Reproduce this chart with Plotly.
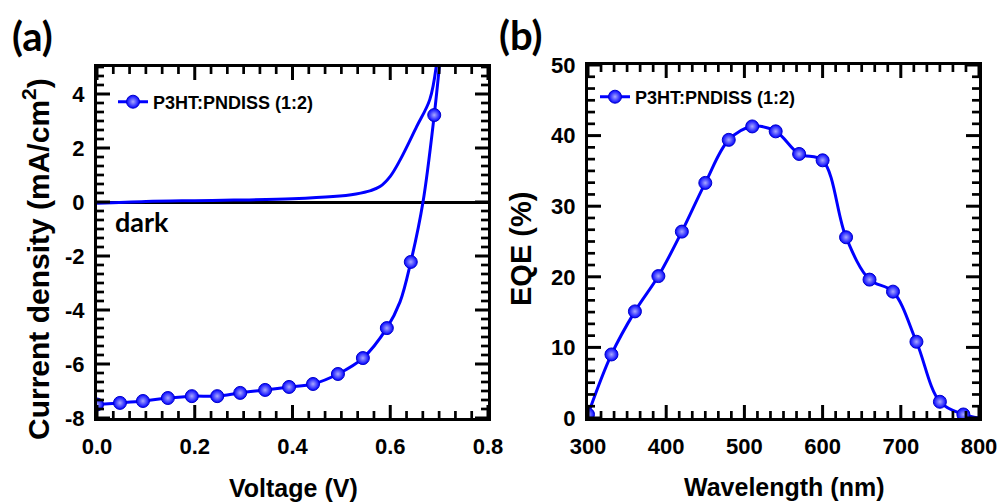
import plotly.graph_objects as go

# ---------------- data ----------------
# (a) J-V curves
light_v_markers = [0.0, 0.047, 0.094, 0.145, 0.194, 0.246, 0.293, 0.344, 0.393, 0.442, 0.493, 0.544, 0.593, 0.642, 0.690]
light_j_markers = [-7.50, -7.44, -7.37, -7.26, -7.19, -7.19, -7.07, -6.96, -6.85, -6.74, -6.37, -5.78, -4.67, -2.22, 3.22]
light_v_line = [0.0, 0.047, 0.094, 0.145, 0.194, 0.246, 0.293, 0.344, 0.393, 0.442, 0.493, 0.544, 0.593, 0.620, 0.642, 0.667, 0.690, 0.702]
light_j_line = [-7.50, -7.44, -7.37, -7.26, -7.19, -7.19, -7.07, -6.96, -6.85, -6.74, -6.37, -5.78, -4.67, -3.70, -2.22, 0.0, 3.22, 5.3]
dark_v = [0.0, 0.10, 0.20, 0.28, 0.40, 0.483, 0.53, 0.56, 0.579, 0.60, 0.62, 0.654, 0.681, 0.696]
dark_j = [-0.05, 0.02, 0.05, 0.07, 0.12, 0.20, 0.30, 0.42, 0.57, 0.95, 1.55, 2.79, 3.80, 5.3]

# (b) EQE spectrum
wl = [300, 330, 360, 390, 420, 450, 480, 510, 540, 570, 600, 630, 660, 690, 720, 750, 780]
eqe = [0.5, 9.0, 15.1, 20.1, 26.4, 33.3, 39.4, 41.3, 40.6, 37.4, 36.5, 25.6, 19.6, 17.9, 10.8, 2.3, 0.5]
wl_line = wl + [800]
eqe_line = eqe + [0.0]

legend_name = "P3HT:PNDISS (1:2)"
xa_range, ya_range = [0.0, 0.8], [-8.0, 5.0]
xb_range, yb_range = [300.0, 800.0], [0.0, 50.0]
xa_ticks = [0.0, 0.2, 0.4, 0.6, 0.8]
xa_ticklabels = ["0.0", "0.2", "0.4", "0.6", "0.8"]
ya_ticks = [-8, -6, -4, -2, 0, 2, 4]
ya_ticklabels = ["-8", "-6", "-4", "-2", "0", "2", "4"]
xb_ticks = [300, 400, 500, 600, 700, 800]
yb_ticks = [0, 10, 20, 30, 40, 50]

# ---------------- layout helpers (pixel -> paper) ----------------
W, H = 1000, 504
L, R, T, B = 97, 21, 65, 86
PW, PH = W - L - R, H - T - B


def px(x):
    return (x - L) / PW


def py(y):
    return (H - B - y) / PH


BLUE = "#0000ff"
FONT = "Arial"
marker_style = dict(size=13, color="#0000ff", line=dict(color="#0000cc", width=1),
                    gradient=dict(type="radial", color="#a8a8ff"))

# panel geometry in pixels (for tick lengths)
A_W, A_H = px(488) * PW, py(67) * PH
B_W, B_H = (1 - px(588)) * PW, PH


def tick_paths(xr, yr, x_step, y_step, w_px, h_px, major):
    """Inside tick segments on all four sides; 5 minor ticks between majors."""
    xs, ys = [], []
    ln = 13 if major else 7
    dy = ln / h_px * (yr[1] - yr[0])
    dx = ln / w_px * (xr[1] - xr[0])
    n = int(round((xr[1] - xr[0]) / (x_step / 6)))
    for k in range(n + 1):
        if (k % 6 == 0) != major:
            continue
        v = xr[0] + k * x_step / 6
        xs += [v, v, None, v, v, None]
        ys += [yr[0], yr[0] + dy, None, yr[1], yr[1] - dy, None]
    n = int(round((yr[1] - yr[0]) / (y_step / 6)))
    for k in range(n + 1):
        if (k % 6 == 0) != major:
            continue
        v = yr[0] + k * y_step / 6
        xs += [xr[0], xr[0] + dx, None, xr[1], xr[1] - dx, None]
        ys += [v, v, None, v, v, None]
    return xs, ys


fig = go.Figure()
# panel (a)
fig.add_trace(go.Scatter(x=dark_v, y=dark_j, mode="lines", line=dict(color=BLUE, width=3, shape="spline"),
                         showlegend=False, hoverinfo="skip", xaxis="x", yaxis="y"))
fig.add_trace(go.Scatter(x=light_v_line, y=light_j_line, mode="lines", line=dict(color=BLUE, width=3, shape="spline"),
                         showlegend=False, hoverinfo="skip", xaxis="x", yaxis="y"))
fig.add_trace(go.Scatter(x=light_v_markers, y=light_j_markers, mode="markers", marker=marker_style,
                         showlegend=False, xaxis="x", yaxis="y"))
fig.add_trace(go.Scatter(x=[None], y=[None], mode="lines+markers", name=legend_name,
                         line=dict(color=BLUE, width=3), marker=marker_style, legend="legend",
                         xaxis="x", yaxis="y"))
# panel (b)
fig.add_trace(go.Scatter(x=wl_line, y=eqe_line, mode="lines", line=dict(color=BLUE, width=3, shape="spline"),
                         showlegend=False, hoverinfo="skip", xaxis="x2", yaxis="y2"))
fig.add_trace(go.Scatter(x=wl, y=eqe, mode="markers", marker=marker_style,
                         showlegend=False, xaxis="x2", yaxis="y2"))
fig.add_trace(go.Scatter(x=[None], y=[None], mode="lines+markers", name=legend_name,
                         line=dict(color=BLUE, width=3), marker=marker_style, legend="legend2",
                         xaxis="x2", yaxis="y2"))

# tick marks (inside, all four sides)
for (xr, yr, xs_, ys_, wpx, hpx, xa, ya) in [
    (xa_range, ya_range, 0.2, 2.0, A_W, A_H, "x", "y"),
    (xb_range, yb_range, 100.0, 10.0, B_W, B_H, "x2", "y2"),
]:
    for major in (True, False):
        tx, ty = tick_paths(xr, yr, xs_, ys_, wpx, hpx, major)
        fig.add_trace(go.Scatter(x=tx, y=ty, mode="lines", connectgaps=False,
                                 line=dict(color="black", width=3 if major else 2.7),
                                 showlegend=False, hoverinfo="skip", xaxis=xa, yaxis=ya))

tickfont = dict(family=FONT, size=22, color="black", weight="bold")
common = dict(showline=True, linecolor="black", linewidth=3, mirror=True, ticks="",
              showgrid=False, zeroline=False, tickfont=tickfont, fixedrange=True)

fig.update_layout(
    width=W, height=H,
    margin=dict(l=L, r=R, t=T, b=B, autoexpand=False),
    paper_bgcolor="white", plot_bgcolor="white",
    xaxis=dict(domain=[0, px(488)], range=xa_range, tickvals=xa_ticks, ticktext=xa_ticklabels,
               ticklabelstandoff=7, anchor="y", **common),
    yaxis=dict(domain=[0, py(67)], range=ya_range, tickvals=ya_ticks, ticktext=ya_ticklabels,
               ticklabelstandoff=5, anchor="x",
               **{**common, "zeroline": True, "zerolinecolor": "black", "zerolinewidth": 3}),
    xaxis2=dict(domain=[px(588), 1], range=xb_range, tickvals=xb_ticks,
                ticklabelstandoff=7, anchor="y2", **common),
    yaxis2=dict(domain=[0, 1], range=yb_range, tickvals=yb_ticks,
                ticklabelstandoff=5, anchor="x2", **common),
    legend=dict(x=px(113), y=py(102), xanchor="left", yanchor="middle", bgcolor="rgba(0,0,0,0)",
                font=dict(family=FONT, size=18, color="black", weight="bold"), itemwidth=30),
    legend2=dict(x=px(595), y=py(97), xanchor="left", yanchor="middle", bgcolor="rgba(0,0,0,0)",
                 font=dict(family=FONT, size=18, color="black", weight="bold"), itemwidth=30),
)

annot_font = dict(family=FONT, size=25, color="black", weight="bold")
fig.add_annotation(text="Voltage (V)", x=px(293), y=py(488), xref="paper", yref="paper",
                   showarrow=False, font=annot_font, xanchor="center", yanchor="middle")
fig.add_annotation(text="Wavelength (nm)", x=px(784), y=py(487), xref="paper", yref="paper",
                   showarrow=False, font=annot_font, xanchor="center", yanchor="middle")
fig.add_annotation(text="Current density (mA/cm<sup>2</sup>)", x=px(36), y=py(259),
                   xref="paper", yref="paper", showarrow=False, textangle=-90,
                   font=dict(family=FONT, size=30, color="black", weight="bold"),
                   xanchor="center", yanchor="middle")
fig.add_annotation(text="EQE (%)", x=px(521), y=py(249), xref="paper", yref="paper",
                   showarrow=False, textangle=-90,
                   font=dict(family=FONT, size=29, color="black", weight="bold"),
                   xanchor="center", yanchor="middle")

label_font = dict(family="Lato", size=40, color="black", weight="bold")
fig.add_annotation(text="(a)", x=px(10), y=py(36), xref="paper", yref="paper",
                   showarrow=False, font=label_font, xanchor="left", yanchor="middle")
fig.add_annotation(text="(b)", x=px(497), y=py(35), xref="paper", yref="paper",
                   showarrow=False, font=label_font, xanchor="left", yanchor="middle")
fig.add_annotation(text="dark", x=px(113), y=py(221), xref="paper", yref="paper",
                   showarrow=False, font=dict(family="Lato", size=27, color="black", weight="bold"),
                   xanchor="left", yanchor="middle")

fig.write_html("out.html", post_script="document.body.style.margin='0';",
               config={"displayModeBar": False})
